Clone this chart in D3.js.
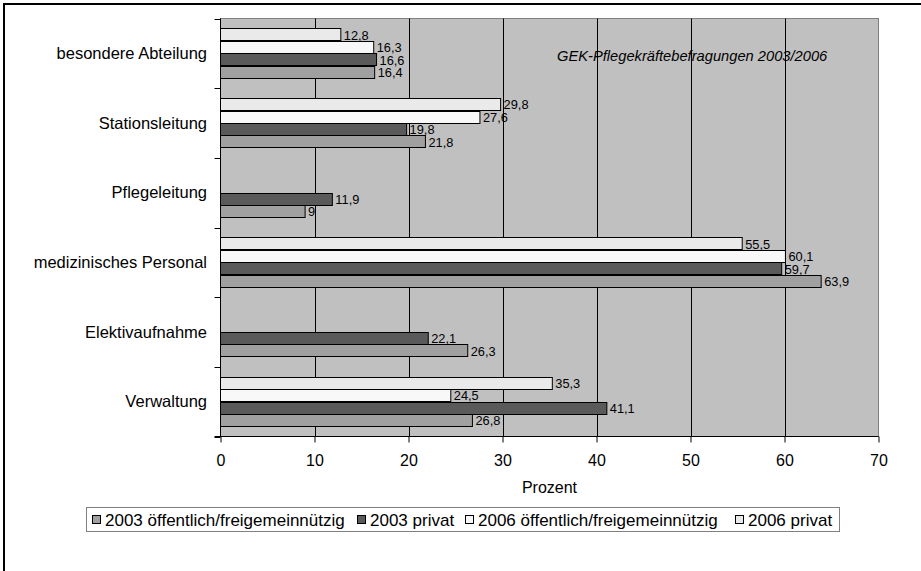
<!DOCTYPE html>
<html><head><meta charset="utf-8">
<script src="https://cdn.jsdelivr.net/npm/d3@7"></script>
<style>body{margin:0;background:#fff}svg{display:block}text{font-family:"Liberation Sans",Arial,sans-serif;fill:#000}</style>
</head><body><svg id="c" width="921" height="571"></svg>
<script>
const categories = ["besondere Abteilung","Stationsleitung","Pflegeleitung","medizinisches Personal","Elektivaufnahme","Verwaltung"];
const seriesNames = ["2003 öffentlich/freigemeinnützig","2003 privat","2006 öffentlich/freigemeinnützig","2006 privat"];
const v2003oeff = [16.4, 21.8, 9, 63.9, 26.3, 26.8];
const v2003priv = [16.6, 19.8, 11.9, 59.7, 22.1, 41.1];
const v2006oeff = [16.3, 27.6, null, 60.1, null, 24.5];
const v2006priv = [12.8, 29.8, null, 55.5, null, 35.3];
const xTicks = [0,10,20,30,40,50,60,70];
const seriesColors = ["#a0a0a0","#5a5a5a","#f8f8f8","#eaeaea"];
const annotation = "GEK-Pflegekräftebefragungen 2003/2006";
const xTitle = "Prozent";

const values = [v2003oeff, v2003priv, v2006oeff, v2006priv];
const svg = d3.select("#c");
// outer frame
svg.append("rect").attr("x",4).attr("y",4).attr("width",1000).attr("height",1000).attr("fill","none").attr("stroke","#000").attr("stroke-width",2);

const L=220.5, R=878.5, T=18.5, B=436.5;
const x = d3.scaleLinear().domain([0,70]).range([L,R]);
const y = d3.scaleBand().domain(categories).range([T,B]);
// inner order top-to-bottom: 2006 privat, 2006 öff, 2003 privat, 2003 öff
const inner = d3.scaleBand().domain([3,2,1,0]).range([0,y.bandwidth()]).paddingInner(0).paddingOuter(0.79);

svg.append("rect").attr("x",L).attr("y",T).attr("width",R-L).attr("height",B-T).attr("fill","#c0c0c0").attr("stroke","#808080");

svg.append("text").attr("x",557).attr("y",61).attr("font-size",14.7).attr("font-style","italic").text(annotation);

// gridlines
svg.append("g").selectAll("line").data(xTicks.slice(1,-1)).join("line")
  .attr("x1",d=>Math.round(x(d))+0.5).attr("x2",d=>Math.round(x(d))+0.5).attr("y1",T).attr("y2",B).attr("stroke","#000");

// bars
const bars=[];
categories.forEach((c,ci)=>values.forEach((arr,si)=>{ if(arr[ci]!=null) bars.push({c,si,v:arr[ci]}); }));
const g = svg.append("g");
g.selectAll("rect").data(bars).join("rect")
  .attr("x",L).attr("y",d=>Math.round(y(d.c)+inner(d.si))+0.5)
  .attr("width",d=>x(d.v)-L).attr("height",Math.round(inner.bandwidth()))
  .attr("fill",d=>seriesColors[d.si]).attr("stroke","#000").attr("stroke-width",1);
g.selectAll("text").data(bars).join("text")
  .attr("x",d=>x(d.v)+3).attr("y",d=>y(d.c)+inner(d.si)+inner.bandwidth()/2+5)
  .attr("font-size",12.8).text(d=>String(d.v).replace(".",","));

// axes
const xa = svg.append("g").attr("transform",`translate(0,${B})`).call(d3.axisBottom(x).tickValues(xTicks).tickSize(6).tickPadding(12).tickFormat(d3.format("d")));
xa.select(".domain").remove();
xa.selectAll("line").attr("stroke","#000");
xa.selectAll("text").attr("font-size",16).attr("font-family","Liberation Sans, Arial");
svg.append("line").attr("x1",L-6).attr("x2",R).attr("y1",B).attr("y2",B).attr("stroke","#000");
svg.append("line").attr("x1",L).attr("x2",L).attr("y1",T).attr("y2",B).attr("stroke","#000");
// y ticks at band boundaries
const bounds = categories.map(c=>y(c)).concat([B]);
svg.append("g").selectAll("line").data(bounds).join("line")
  .attr("x1",L-6).attr("x2",L).attr("y1",d=>Math.round(d)+0.5).attr("y2",d=>Math.round(d)+0.5).attr("stroke","#000");
svg.append("g").selectAll("text").data(categories).join("text")
  .attr("x",207).attr("y",d=>y(d)+y.bandwidth()/2+5.5).attr("text-anchor","end").attr("font-size",16.5).text(d=>d);

svg.append("text").attr("x",(L+R)/2).attr("y",493).attr("text-anchor","middle").attr("font-size",16).text(xTitle);

// legend
svg.append("rect").attr("x",86.5).attr("y",507.5).attr("width",753).attr("height",24).attr("fill","#fff").attr("stroke","#808080");
const legX=[92,357,465,735];
const lg = svg.append("g").selectAll("g").data(seriesNames).join("g").attr("transform",(d,i)=>`translate(${legX[i]},0)`);
lg.append("rect").attr("x",0.5).attr("y",515.5).attr("width",8).attr("height",8).attr("fill",(d,i)=>seriesColors[i]).attr("stroke","#000");
lg.append("text").attr("x",13).attr("y",525.5).attr("font-size",17).text(d=>d);
</script></body></html>
